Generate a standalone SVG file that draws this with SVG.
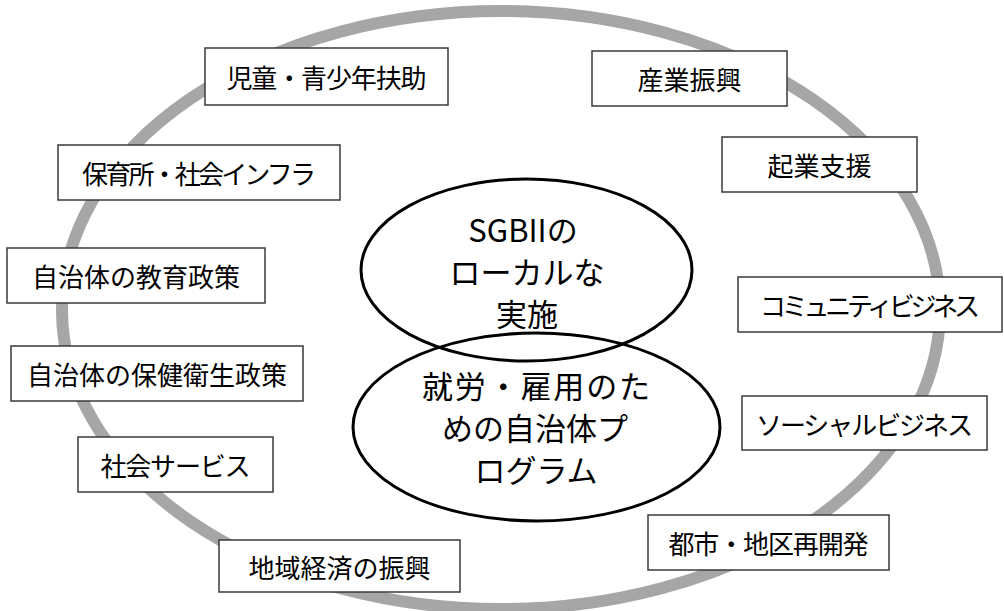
<svg xmlns="http://www.w3.org/2000/svg" width="1004" height="611" viewBox="0 0 1004 611">
<style>
.ring{fill:none;stroke:#a6a6a6;stroke-width:12}
.box{fill:#fff;stroke:#3a3a3a;stroke-width:1.5}
.core{fill:none;stroke:#000;stroke-width:3}
.t{font-family:"Noto Sans CJK JP","Noto Sans",sans-serif;font-size:26px;fill:#000;text-anchor:middle;dominant-baseline:central}
.c{font-family:"Noto Sans CJK JP","Noto Sans",sans-serif;font-size:31px;fill:#000;text-anchor:middle}
</style>
<rect width="1004" height="611" fill="#fff"/>
<g id="outer-ring"><ellipse class="ring" cx="501" cy="310" rx="439" ry="299"/></g>
<g id="connectors"></g>
<g id="n1"><rect class="box" x="205" y="48" width="243" height="57"/><text class="t" x="326.5" y="76.5" textLength="200">児童・青少年扶助</text></g>
<g id="n2"><rect class="box" x="58" y="145" width="282" height="55"/><text class="t" x="199" y="172.5" textLength="234">保育所・社会インフラ</text></g>
<g id="n3"><rect class="box" x="7" y="248" width="258" height="55"/><text class="t" x="136" y="275.5">自治体の教育政策</text></g>
<g id="n4"><rect class="box" x="11" y="346" width="292" height="55"/><text class="t" x="157" y="373.5">自治体の保健衛生政策</text></g>
<g id="n5"><rect class="box" x="78" y="437" width="195" height="55"/><text class="t" x="175.5" y="464.5" textLength="150">社会サービス</text></g>
<g id="n6"><rect class="box" x="219" y="540" width="241" height="52"/><text class="t" x="339.5" y="566">地域経済の振興</text></g>
<g id="n7"><rect class="box" x="592" y="51" width="195" height="55"/><text class="t" x="689.5" y="78.5">産業振興</text></g>
<g id="n8"><rect class="box" x="722" y="137" width="195" height="55"/><text class="t" x="819.5" y="164.5">起業支援</text></g>
<g id="n9"><rect class="box" x="738" y="277" width="264" height="55"/><text class="t" x="870" y="304.5" textLength="220">コミュニティビジネス</text></g>
<g id="n10"><rect class="box" x="742" y="396" width="245" height="54"/><text class="t" x="864.5" y="423" textLength="217">ソーシャルビジネス</text></g>
<g id="n11"><rect class="box" x="648" y="515" width="241" height="55"/><text class="t" x="768.5" y="542.5" textLength="200">都市・地区再開発</text></g>
<g id="core-sgbii"><ellipse class="core" cx="526.5" cy="270" rx="165.5" ry="91"/>
<text class="c" x="523" y="242">SGBIIの</text>
<text class="c" x="527" y="284">ローカルな</text>
<text class="c" x="527" y="326">実施</text></g>
<g id="core-program"><ellipse class="core" cx="536.5" cy="427" rx="183.5" ry="94"/>
<text class="c" x="536" y="398" textLength="228">就労・雇用のた</text>
<text class="c" x="535" y="440">めの自治体プ</text>
<text class="c" x="536" y="482">ログラム</text></g>
</svg>
